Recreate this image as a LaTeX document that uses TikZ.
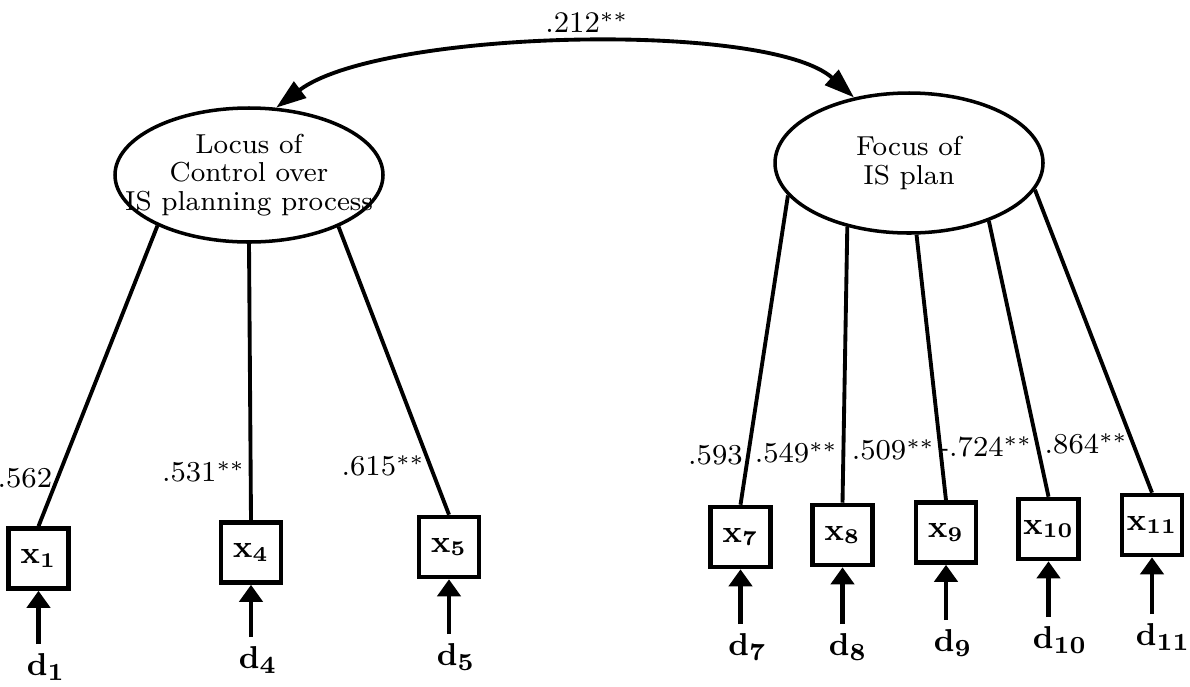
\documentclass[tikz,border=0pt]{standalone}
\usepackage{tikz}
\usetikzlibrary{arrows.meta}
\usetikzlibrary{shapes}

\begin{document}
\begin{tikzpicture}[x=1cm,y=1cm,
        latent/.style={draw,ellipse,line width=1pt,inner sep=0pt,minimum width=2.68cm},
        lattext/.style={align=center,inner sep=0pt,font=\fontsize{7.8}{8.2}\selectfont},
        manifest/.style={draw,rectangle,line width=1.3pt,minimum size=0.6cm,inner sep=0pt,font=\fontsize{9}{10}\selectfont},
        errlab/.style={inner sep=2.5pt,font=\fontsize{9.5}{10}\selectfont},
        coef/.style={anchor=east,inner sep=1pt,font=\fontsize{8.2}{10}\selectfont},
        load/.style={line width=1.1pt},
        err/.style={line width=1.2pt,-{Triangle[length=1.7mm,width=2.3mm]}},
        corr/.style={line width=1.1pt,{Triangle[length=3mm,width=2mm]}-{Triangle[length=3mm,width=2mm]}}]
        \useasboundingbox (0,0) rectangle (11.9,6.86);
        \node[latent,minimum height=1.34cm] (LC) at (2.49,5.11) {};
        \node[lattext] (LCtxt) at (LC) {Locus of\\Control over\\IS planning process};
        \node[latent,minimum height=1.40cm] (FP) at (9.09,5.23) {};
        \node[lattext] (FPtxt) at (FP) {Focus of\\IS plan};
        \node[manifest] (x1) at (0.385,1.275) {$\mathbf{x}_{\mathbf{1}}$};
        \node[manifest] (x4) at (2.51,1.335) {$\mathbf{x}_{\mathbf{4}}$};
        \node[manifest] (x5) at (4.49,1.39) {$\mathbf{x}_{\mathbf{5}}$};
        \node[manifest] (x7) at (7.405,1.49) {$\mathbf{x}_{\mathbf{7}}$};
        \node[manifest] (x8) at (8.425,1.51) {$\mathbf{x}_{\mathbf{8}}$};
        \node[manifest] (x9) at (9.46,1.535) {$\mathbf{x}_{\mathbf{9}}$};
        \node[manifest] (x10) at (10.485,1.57) {$\mathbf{x}_{\mathbf{10}}$};
        \node[manifest] (x11) at (11.52,1.61) {$\mathbf{x}_{\mathbf{11}}$};
        \node[errlab] (d1) at (0.46,0.19) {$\mathbf{d}_{\mathbf{1}}$};
        \node[errlab] (d4) at (2.58,0.26) {$\mathbf{d}_{\mathbf{4}}$};
        \node[errlab] (d5) at (4.56,0.29) {$\mathbf{d}_{\mathbf{5}}$};
        \node[errlab] (d7) at (7.475,0.39) {$\mathbf{d}_{\mathbf{7}}$};
        \node[errlab] (d8) at (8.48,0.39) {$\mathbf{d}_{\mathbf{8}}$};
        \node[errlab] (d9) at (9.53,0.43) {$\mathbf{d}_{\mathbf{9}}$};
        \node[errlab] (d10) at (10.6,0.46) {$\mathbf{d}_{\mathbf{10}}$};
        \node[errlab] (d11) at (11.63,0.49) {$\mathbf{d}_{\mathbf{11}}$};
        \draw[corr] (LC.68) .. controls +(37:1.3) and +(138:1.15) .. node[pos=0.5,above=-0.5pt,xshift=1.5mm,font=\fontsize{8.5}{10}\selectfont] (r12) {.212$^{**}$} (FP.130);
        \draw[load] (LC.-151) -- node[coef,pos=0.84] {.562} (x1.north);
        \draw[load] (LC.-90) -- node[coef,pos=0.825] {.531$^{**}$} (x4.north);
        \draw[load] (LC.-30) -- node[coef,pos=0.83] {.615$^{**}$} (x5.north);
        \draw[load] (FP.-165) -- node[coef,pos=0.84] {.593} (x7.north);
        \draw[load] (FP.-134) -- node[coef,pos=0.82] {.549$^{**}$} (x8.north);
        \draw[load] (FP.-84) -- node[coef,pos=0.81] {.509$^{**}$} (x9.north);
        \draw[load] (FP.-36) -- node[coef,pos=0.82] {-.724$^{**}$} (x10.north);
        \draw[load] (FP.-12) -- node[coef,pos=0.84] {.864$^{**}$} (x11.north);
        \draw[err] (x1 |- d1.north) -- (x1.south);
        \draw[err] (x4 |- d4.north) -- (x4.south);
        \draw[err] (x5 |- d5.north) -- (x5.south);
        \draw[err] (x7 |- d7.north) -- (x7.south);
        \draw[err] (x8 |- d8.north) -- (x8.south);
        \draw[err] (x9 |- d9.north) -- (x9.south);
        \draw[err] (x10 |- d10.north) -- (x10.south);
        \draw[err] (x11 |- d11.north) -- (x11.south);
\end{tikzpicture}
\end{document}
